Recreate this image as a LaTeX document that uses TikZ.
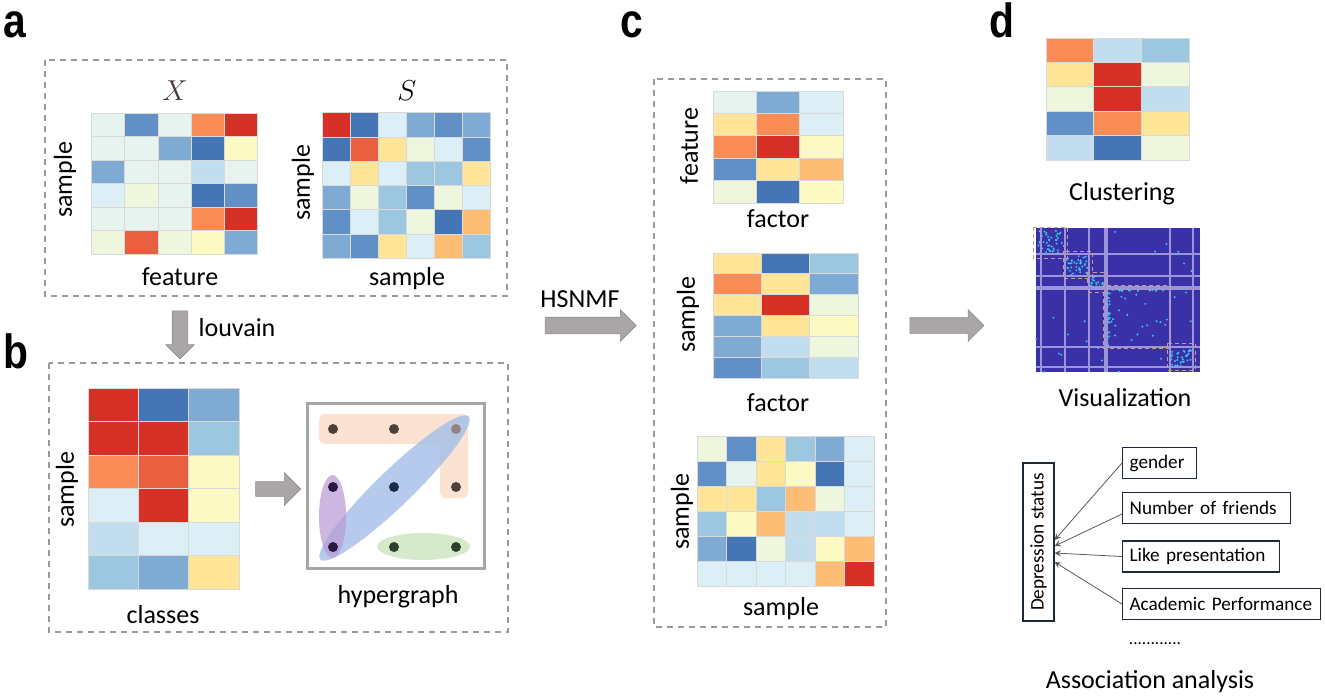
\documentclass[tikz,border=0pt]{standalone}
\usepackage{fontspec}
\setmainfont{Carlito}
\newfontfamily\panelfont{Liberation Sans}
\usetikzlibrary{shapes.arrows}

\definecolor{hR}{HTML}{D73027}
\definecolor{hQ}{HTML}{E8603F}
\definecolor{hO}{HTML}{F98D55}
\definecolor{hP}{HTML}{FDBD74}
\definecolor{hY}{HTML}{FEE597}
\definecolor{hW}{HTML}{FCF9C2}
\definecolor{hG}{HTML}{EEF6DD}
\definecolor{hM}{HTML}{E6F3EF}
\definecolor{hL}{HTML}{DCEFF6}
\definecolor{hK}{HTML}{C2DDED}
\definecolor{hC}{HTML}{9DC7E0}
\definecolor{hB}{HTML}{7FAAD3}
\definecolor{hD}{HTML}{6090C5}
\definecolor{hE}{HTML}{4575B4}
\definecolor{arrowgray}{HTML}{AAA6A7}
\definecolor{boxgray}{HTML}{9A9A9A}
\definecolor{xbrown}{HTML}{4B3A3A}
\definecolor{boxnavy}{HTML}{1F2A38}
\definecolor{hgray}{HTML}{A6A6A6}
\definecolor{peach}{HTML}{FBE2D2}
\definecolor{hblue}{HTML}{A3BDE8}
\definecolor{hpurple}{HTML}{B898D4}
\definecolor{hgreen}{HTML}{D6E9CB}
\definecolor{hdotA}{HTML}{4D4038}
\definecolor{hdotL}{HTML}{948282}
\definecolor{hdotP}{HTML}{2A1840}
\definecolor{hdotB}{HTML}{1C2B45}
\definecolor{hdotG}{HTML}{2F3F2D}
\definecolor{vizbg}{HTML}{3A30A8}
\definecolor{vizline}{HTML}{9C95D8}
\definecolor{vizcyan}{HTML}{38C6E8}
\definecolor{vizpink}{HTML}{C99A9A}

\newcommand{\heatmap}[5]{%
  \foreach \cells [count=\r] in {#5} {
    \foreach \cc [count=\k] in \cells {
      \filldraw[cellbox, fill=h\cc] ({#1+(\k-1)*#3},{#2+(\r-1)*#4}) rectangle ++(#3,#4);
    }
  }%
}
\newcommand{\vizdots}[5]{%
  \foreach \i in {1,...,#1} {
    \pgfmathsetmacro{\px}{#2+#4*rnd}
    \pgfmathsetmacro{\py}{#3+#5*rnd}
    \fill[vizdot] (\px,\py) circle [radius=1.1];
  }%
}

\begin{document}
\begin{tikzpicture}[x=0.5pt,y=-0.5pt,
  cellbox/.style={draw=black!15, line width=0.4pt},
  dashbox/.style={draw=boxgray, line width=0.75pt, dash pattern=on 3pt off 2.5pt},
  lbl/.style={font=\fontsize{13}{15}\selectfont, inner sep=0pt, anchor=base},
  rotlbl/.style={font=\fontsize{13}{15}\selectfont, inner sep=0pt, rotate=90},
  panel/.style={font=\panelfont\bfseries\fontsize{24}{26}\selectfont, inner sep=0pt, anchor=base west},
  grayarrow/.style={single arrow, single arrow head indent=0pt, fill=arrowgray, draw=arrowgray!85!black, line width=0.3pt, inner xsep=0pt},
  hdot/.style={circle, inner sep=0pt, minimum size=5pt},
  assocbox/.style={draw=boxnavy, line width=0.6pt, font=\fontsize{9.6}{11}\selectfont, inner xsep=3.5pt, inner ysep=0pt, minimum height=15.5pt, anchor=west, align=left},
  vizdot/.style={fill=vizcyan}]
\useasboundingbox (0,0) rectangle (1325,697);

\node[panel] (pa) at (3,37) {\scalebox{0.85}[1]{a}};
\node[panel] (pb) at (3,368) {\scalebox{0.85}[1]{b}};
\node[panel] (pc) at (620,37) {\scalebox{0.85}[1]{c}};
\node[panel] (pd) at (989,37) {\scalebox{0.85}[1]{d}};

\draw[dashbox] (45,60) rectangle (507,296);
\draw[dashbox] (49,363) rectangle (508,632);
\draw[dashbox] (654,79) rectangle (886,627);

\heatmap{91.7}{113.3}{33.1}{23.45}{{M,D,M,O,R},{M,M,B,E,W},{B,M,M,K,M},{L,G,M,E,D},{M,M,M,O,R},{G,Q,G,W,B}}
\heatmap{322.7}{112.7}{28}{24.27}{{R,E,L,B,D,B},{E,Q,Y,G,L,D},{L,Y,L,C,C,Y},{B,G,C,D,G,L},{D,L,C,G,E,P},{B,D,Y,L,P,C}}
\node[lbl, font=\fontsize{14}{16}\selectfont, text=xbrown] (xname) at (175,100) {$X$};
\node[lbl, font=\fontsize{14}{16}\selectfont] (sname) at (407,100) {$S$};
\node[rotlbl] (xrow) at (65,180) {sample};
\node[lbl] (xcol) at (180,285) {feature};
\node[rotlbl] (srow) at (303,183) {sample};
\node[lbl] (scol) at (407,285) {sample};

\node[grayarrow, rotate=-90, minimum height=24pt, inner ysep=3.75pt, single arrow head extend=3.25pt] (louv) at (180,331) {};
\node[lbl] (louvtxt) at (237,336) {louvain};

\heatmap{88}{388}{50.3}{33.5}{{R,E,B},{R,R,C},{O,Q,W},{L,R,W},{K,L,L},{C,B,Y}}
\node[rotlbl] (crow) at (67,490) {sample};
\node[lbl] (ccol) at (163,623) {classes};
\node[grayarrow, minimum height=22.5pt, inner ysep=3.5pt, single arrow head extend=4.5pt] (toh) at (274.5,489) {};

\fill[peach, rounded corners=3pt] (319,414) rectangle (468,444) (440,414) rectangle (468,498);
\fill[hgreen] (423.5,546.5) ellipse [x radius=46.5, y radius=13.5];
\fill[hblue, opacity=0.8, rotate around={44:(394.5,488)}] (394.5,488) ellipse [x radius=103, y radius=18];
\fill[hpurple, opacity=0.7] (332.5,516.5) ellipse [x radius=13.5, y radius=41.5];
\foreach \x/\y/\c [count=\n] in {333/429/hdotA, 394/429/hdotA, 456/429/hdotL, 333/487/hdotP, 394/487/hdotB, 456/487/hdotA, 333/547/hdotP, 394/547/hdotG, 456/547/hdotG}
  \node[hdot, fill=\c] (v\n) at (\x,\y) {};
\draw[hgray, line width=1.5pt] (307,403) rectangle (484,568);
\node[lbl] (hglbl) at (398,603) {hypergraph};

\node[grayarrow, minimum height=45.5pt, inner ysep=4pt, single arrow head extend=3.75pt] (hsn) at (586.5,325.5) {};
\node[lbl] (hsntxt) at (580,307) {HSNMF};

\heatmap{713}{91}{43.3}{22.4}{{M,B,L},{Y,O,L},{O,R,W},{D,Y,P},{G,E,W}}
\node[rotlbl] (wrow) at (689,146) {feature};
\node[lbl] (wcol) at (778,227) {factor};
\heatmap{713}{253}{48.3}{20.83}{{Y,E,C},{O,Y,B},{Y,R,G},{B,Y,W},{B,K,G},{D,C,K}}
\node[rotlbl] (hrow) at (688,315) {sample};
\node[lbl] (hcol) at (778,411) {factor};
\heatmap{697}{436}{29.5}{25}{{G,D,Y,C,B,L},{D,M,Y,W,E,L},{Y,Y,C,P,G,L},{C,W,P,K,K,L},{B,E,G,K,W,P},{L,L,L,L,P,R}}
\node[rotlbl] (grow) at (682,512) {sample};
\node[lbl] (gcol) at (781,615) {sample};

\node[grayarrow, minimum height=37pt, inner ysep=3.75pt, single arrow head extend=4pt] (tod) at (943,325.5) {};

\heatmap{1046}{38}{47.67}{24.4}{{O,K,C},{Y,R,G},{G,R,K},{D,O,Y},{K,E,G}}
\node[lbl] (clu) at (1122,200) {Clustering};

\fill[vizbg] (1036,228) rectangle (1200,372);
\pgfmathsetseed{5}
\vizdots{40}{1038}{230}{26}{23}
\vizdots{35}{1066}{256}{22}{19}
\vizdots{15}{1090}{277}{14}{11}
\vizdots{45}{1108}{287}{62}{4}
\vizdots{45}{1105}{290}{5}{56}
\vizdots{15}{1110}{293}{58}{52}
\vizdots{30}{1171}{349}{21}{17}
\vizdots{30}{1036}{228}{164}{144}
\foreach \vx in {1041,1065,1089,1105,1107,1170,1193}
  \draw[vizline, line width=0.6pt] (\vx,228) -- (\vx,372);
\foreach \vy in {254,276,287,289,347,367}
  \draw[vizline, line width=0.6pt] (1036,\vy) -- (1200,\vy);
\draw[vizpink, line width=0.5pt, dash pattern=on 2pt off 1.5pt] (1033,227) rectangle (1067,258) (1063,251) rectangle (1092,278) (1087,272) rectangle (1107,292) (1103,285) rectangle (1170,348) (1167,343) rectangle (1195,370);
\node[lbl] (viz) at (1125,406) {Visualization};

\node[assocbox, anchor=center, rotate=90, minimum width=79pt, align=center] (dep) at (1038.5,542) {Depression status};
\node[assocbox, text width=30pt] (gen) at (1122,463) {gender};
\node[assocbox, text width=77pt] (num) at (1122,508) {Number of friends};
\node[assocbox, text width=71.5pt] (like) at (1122,556.5) {Like presentation};
\node[assocbox, text width=92pt] (acad) at (1122,604) {Academic Performance};
\draw[->,>=stealth, black!65, line width=0.4pt] (gen.west) -- ([yshift=1pt]dep.south);
\draw[->,>=stealth, black!65, line width=0.4pt] ([yshift=-3pt]num.west) -- ([yshift=-2pt]dep.south);
\draw[->,>=stealth, black!65, line width=0.4pt] (like.west) -- ([yshift=-5.5pt]dep.south);
\draw[->,>=stealth, black!65, line width=0.4pt] (acad.west) -- ([yshift=-10pt]dep.south);
\node[font=\fontsize{8.6}{10}\selectfont, inner sep=0pt] (etc) at (1155,644) {............};
\node[lbl] (assoc) at (1150,688) {Association analysis};
\end{tikzpicture}
\end{document}
